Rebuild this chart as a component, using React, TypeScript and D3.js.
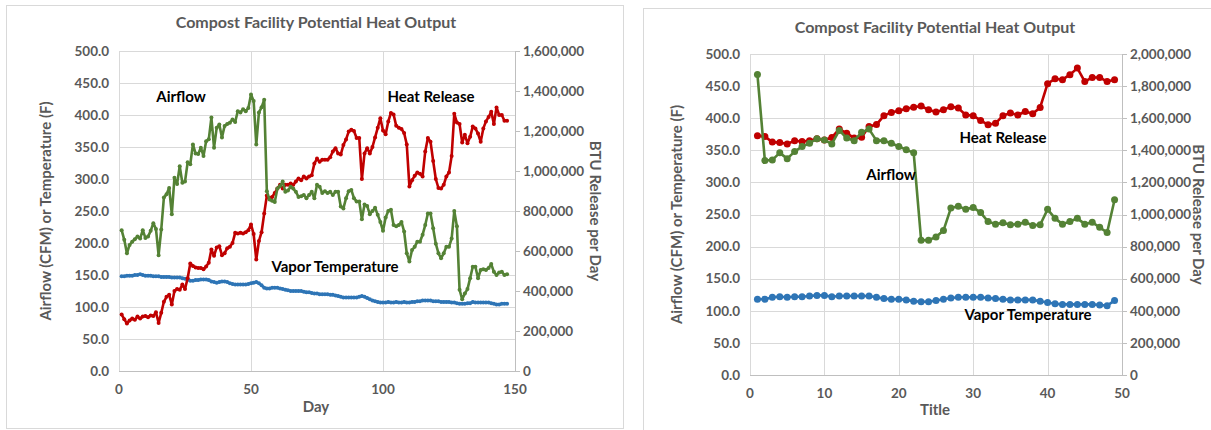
import React from 'react';
import * as d3 from 'd3';

// ---------- DATA ----------
const chartTitle = 'Compost Facility Potential Heat Output';
const yTitle = 'Airflow (CFM) or Temperature (F)';
const y2Title = 'BTU Release per Day';

// Left chart: daily values, day 1..147
const leftAirflow = [
  220, 205, 184, 197, 202, 206, 210, 207, 220, 208,
  210, 219, 231, 222, 181, 221, 271, 276, 286, 245,
  302, 292, 320, 294, 296, 326, 323, 354, 340, 339,
  349, 336, 359, 362, 396, 349, 380, 385, 365, 383,
  386, 388, 393, 389, 406, 404, 409, 406, 411, 432,
  422, 354, 404, 412, 424, 281, 268, 266, 264, 285,
  289, 296, 280, 282, 288, 285, 280, 272, 273, 275,
  270, 275, 280, 270, 291, 288, 278, 281, 278, 280,
  275, 280, 280, 257, 254, 270, 281, 283, 270, 265,
  265, 237, 260, 258, 245, 250, 255, 244, 233, 219,
  240, 250, 252, 228, 226, 228, 233, 218, 184, 171,
  189, 194, 202, 202, 213, 228, 246, 246, 223, 199,
  184, 176, 184, 194, 194, 207, 250, 226, 127, 112,
  121, 128, 145, 163, 163, 145, 158, 159, 158, 161,
  167, 155, 150, 154, 155, 150, 151,
];

const leftHeat = [
  282000, 259000, 237000, 253000, 262000, 256000, 272000, 262000, 272000, 275000,
  269000, 278000, 275000, 294000, 240000, 291000, 346000, 371000, 381000, 333000,
  400000, 410000, 406000, 432000, 410000, 464000, 538000, 525000, 518000, 515000,
  515000, 509000, 522000, 541000, 608000, 576000, 618000, 624000, 579000, 589000,
  614000, 621000, 640000, 691000, 688000, 691000, 688000, 694000, 704000, 733000,
  685000, 557000, 650000, 694000, 787000, 877000, 864000, 870000, 890000, 912000,
  931000, 912000, 931000, 931000, 938000, 931000, 947000, 963000, 954000, 973000,
  963000, 973000, 979000, 1037000, 1062000, 1046000, 1056000, 1056000, 1056000, 1069000,
  1098000, 1114000, 1088000, 1082000, 1130000, 1158000, 1197000, 1206000, 1200000, 1165000,
  1165000, 960000, 1088000, 1114000, 1088000, 1120000, 1168000, 1216000, 1264000, 1203000,
  1184000, 1248000, 1290000, 1283000, 1226000, 1216000, 1210000, 1190000, 1133000, 922000,
  954000, 976000, 992000, 986000, 973000, 1098000, 1165000, 1146000, 1050000, 960000,
  915000, 912000, 931000, 973000, 992000, 1075000, 1286000, 1242000, 1235000, 1142000,
  1181000, 1139000, 1171000, 1222000, 1213000, 1187000, 1146000, 1213000, 1248000, 1270000,
  1296000, 1235000, 1318000, 1280000, 1280000, 1251000, 1251000,
];

const leftVapor = [
  148, 148, 149, 149, 149, 150, 150, 151, 150, 149,
  149, 149, 148, 148, 148, 147, 147, 147, 147, 146,
  146, 146, 146, 145, 144, 143, 141, 141, 142, 142,
  143, 143, 143, 142, 140, 139, 138, 139, 140, 140,
  139, 137, 136, 135, 135, 135, 135, 135, 136, 137,
  138, 139, 137, 134, 130, 129, 129, 130, 130, 130,
  129, 128, 127, 126, 125, 125, 125, 125, 125, 124,
  123, 123, 122, 121, 121, 120, 120, 120, 120, 119,
  119, 118, 117, 116, 115, 115, 115, 115, 115, 115,
  116, 117, 116, 114, 112, 110, 109, 108, 107, 107,
  107, 108, 107, 107, 108, 107, 107, 108, 107, 107,
  108, 108, 109, 109, 110, 110, 110, 110, 109, 109,
  109, 108, 108, 108, 108, 107, 107, 106, 105, 105,
  105, 106, 106, 108, 107, 107, 107, 107, 107, 107,
  106, 105, 104, 104, 105, 105, 105,
];

// Right chart: points 1..49
const rightAirflow = [
  468, 334, 335, 346, 337, 348, 356, 361, 368, 366,
  360, 381, 369, 365, 378, 383, 365, 365, 361, 356,
  351, 346, 210, 210, 215, 225, 260, 263, 258, 261,
  253, 239, 235, 237, 234, 235, 238, 233, 234, 258,
  244, 235, 239, 244, 235, 238, 230, 222, 273,
];

const rightHeat = [
  1491000, 1486000, 1451000, 1448000, 1439000, 1460000, 1455000, 1460000, 1472000, 1464000,
  1480000, 1532000, 1507000, 1476000, 1482000, 1548000, 1560000, 1616000, 1636000, 1646000,
  1659000, 1668000, 1676000, 1652000, 1638000, 1652000, 1672000, 1663000, 1620000, 1616000,
  1586000, 1559000, 1568000, 1616000, 1632000, 1620000, 1642000, 1628000, 1667000, 1815000,
  1846000, 1840000, 1871000, 1912000, 1828000, 1854000, 1854000, 1828000, 1840000,
];

const rightVapor = [
  118, 118, 121, 122, 121, 122, 122, 123, 124, 124,
  122, 123, 123, 123, 123, 123, 121, 119, 118, 118,
  117, 115, 114, 114, 116, 118, 120, 121, 121, 121,
  121, 120, 119, 118, 117, 117, 117, 117, 115, 113,
  111, 110, 110, 110, 110, 110, 109, 108, 116,
];

const leftXTicks = [0, 50, 100, 150];
const rightXTicks = [0, 10, 20, 30, 40, 50];
const yTicks = [0, 50, 100, 150, 200, 250, 300, 350, 400, 450, 500];
const leftY2Ticks = [0, 200000, 400000, 600000, 800000, 1000000, 1200000, 1400000, 1600000];
const rightY2Ticks = [0, 200000, 400000, 600000, 800000, 1000000, 1200000, 1400000, 1600000, 1800000, 2000000];

// ---------- STYLE ----------
const FONT = 'Lato, "Open Sans", "DejaVu Sans", sans-serif';
const GRAY = '#595959';
const GRID = '#d9d9d9';
const AXIS = '#bfbfbf';
const GREEN = '#548235';
const RED = '#c00000';
const BLUE = '#2e75b6';

type Ann = { text: string; x: number; y: number };
type Cfg = {
  box: [number, number, number, number];
  px0: number; px1: number; py0: number; py1: number;
  xDomain: [number, number];
  xTicks: number[];
  y2Max: number;
  y2Ticks: number[];
  xTitle: string;
  airflow: number[];
  heat: number[];
  vapor: number[];
  r: number;
  lw: number;
  titleX: number; titleY: number;
  xTitleY: number;
  yTitleX: number; y2TitleX: number;
  anns: Ann[];
};

function Panel({ c }: { c: Cfg }) {
  const x = d3.scaleLinear().domain(c.xDomain).range([c.px0, c.px1]);
  const y = d3.scaleLinear().domain([0, 500]).range([c.py0, c.py1]);
  const y2 = d3.scaleLinear().domain([0, c.y2Max]).range([c.py0, c.py1]);
  const fmt1 = d3.format('.1f');
  const fmtC = d3.format(',');
  const idx = (arr: number[]) => arr.map((v, i) => [i + 1, v] as [number, number]);
  const l1 = d3.line<[number, number]>().x(d => x(d[0])).y(d => y(d[1]));
  const l2 = d3.line<[number, number]>().x(d => x(d[0])).y(d => y2(d[1]));
  const midY = (c.py0 + c.py1) / 2;

  const series = [
    { pts: idx(c.vapor), line: l1, yy: y, color: BLUE },
    { pts: idx(c.heat), line: l2, yy: y2, color: RED },
    { pts: idx(c.airflow), line: l1, yy: y, color: GREEN },
  ];

  return (
    <g>
      <rect x={c.box[0] + 0.5} y={c.box[1] + 0.5} width={c.box[2]} height={c.box[3]} fill="#fff" stroke={GRID} />
      {yTicks.map(t => (
        <line key={'gy' + t} x1={c.px0} x2={c.px1} y1={Math.round(y(t)) + 0.5} y2={Math.round(y(t)) + 0.5} stroke={GRID} />
      ))}
      {c.xTicks.map(t => (
        <line key={'gx' + t} x1={Math.round(x(t)) + 0.5} x2={Math.round(x(t)) + 0.5} y1={c.py1} y2={c.py0} stroke={GRID} />
      ))}
      <line x1={c.px0} x2={c.px1} y1={Math.round(c.py0) + 0.5} y2={Math.round(c.py0) + 0.5} stroke={AXIS} />
      <line x1={Math.round(c.px1) + 0.5} x2={Math.round(c.px1) + 0.5} y1={c.py1} y2={c.py0} stroke={AXIS} />
      {c.y2Ticks.map(t => (
        <line key={'t2' + t} x1={c.px1} x2={c.px1 + 5} y1={Math.round(y2(t)) + 0.5} y2={Math.round(y2(t)) + 0.5} stroke={AXIS} />
      ))}
      {yTicks.map(t => (
        <text key={'ly' + t} x={c.px0 - 10} y={y(t)} dy="0.35em" textAnchor="end" fontSize={13.5} fontWeight="bold" fill={GRAY} fontFamily={FONT}>{fmt1(t)}</text>
      ))}
      {c.y2Ticks.map(t => (
        <text key={'ry' + t} x={c.px1 + 8} y={y2(t)} dy="0.35em" textAnchor="start" fontSize={13.5} fontWeight="bold" fill={GRAY} fontFamily={FONT}>{fmtC(t)}</text>
      ))}
      {c.xTicks.map(t => (
        <text key={'lx' + t} x={x(t)} y={c.py0 + 18} dy="0.35em" textAnchor="middle" fontSize={13.5} fontWeight="bold" fill={GRAY} fontFamily={FONT}>{t}</text>
      ))}
      <text x={c.titleX} y={c.titleY} dy="0.35em" textAnchor="middle" fontSize={16} fontWeight="bold" fill={GRAY} fontFamily={FONT}>{chartTitle}</text>
      <text x={c.titleX} y={c.xTitleY} dy="0.35em" textAnchor="middle" fontSize={15} fontWeight="bold" fill={GRAY} fontFamily={FONT}>{c.xTitle}</text>
      <text transform={`translate(${c.yTitleX},${midY}) rotate(-90)`} dy="0.35em" textAnchor="middle" fontSize={15} fontWeight="bold" fill={GRAY} fontFamily={FONT}>{yTitle}</text>
      <text transform={`translate(${c.y2TitleX},${midY}) rotate(90)`} dy="0.35em" textAnchor="middle" fontSize={15} fontWeight="bold" fill={GRAY} fontFamily={FONT}>{y2Title}</text>
      {series.map((s, i) => (
        <g key={'s' + i}>
          <path d={s.line(s.pts) || ''} fill="none" stroke={s.color} strokeWidth={c.lw} strokeLinejoin="round" />
          {s.pts.map((p, j) => (
            <circle key={j} cx={x(p[0])} cy={s.yy(p[1])} r={c.r} fill={s.color} />
          ))}
        </g>
      ))}
      {c.anns.map(a => (
        <text key={a.text} x={a.x} y={a.y} dy="0.35em" textAnchor="middle" fontSize={15} fontWeight="bold" fill="#000" fontFamily={FONT}>{a.text}</text>
      ))}
    </g>
  );
}

export default function App() {
  const left: Cfg = {
    box: [6, 5, 617, 423],
    px0: 119, px1: 515, py0: 371, py1: 51,
    xDomain: [0, 150], xTicks: leftXTicks,
    y2Max: 1600000, y2Ticks: leftY2Ticks,
    xTitle: 'Day',
    airflow: leftAirflow, heat: leftHeat, vapor: leftVapor,
    r: 2, lw: 2.6,
    titleX: 316, titleY: 22, xTitleY: 407,
    yTitleX: 46, y2TitleX: 595,
    anns: [
      { text: 'Airflow', x: 181, y: 97 },
      { text: 'Heat Release', x: 431, y: 97 },
      { text: 'Vapor Temperature', x: 335, y: 267 },
    ],
  };
  const right: Cfg = {
    box: [643, 8, 575, 430],
    px0: 750, px1: 1122, py0: 375, py1: 54,
    xDomain: [0, 50], xTicks: rightXTicks,
    y2Max: 2000000, y2Ticks: rightY2Ticks,
    xTitle: 'Title',
    airflow: rightAirflow, heat: rightHeat, vapor: rightVapor,
    r: 3.5, lw: 2.6,
    titleX: 935, titleY: 27, xTitleY: 410,
    yTitleX: 677, y2TitleX: 1198,
    anns: [
      { text: 'Heat Release', x: 1003, y: 138 },
      { text: 'Airflow', x: 891, y: 175 },
      { text: 'Vapor Temperature', x: 1028, y: 315 },
    ],
  };
  return (
    <svg width={1211} height={430} style={{ position: 'absolute', left: 0, top: 0, background: '#fff' }}>
      <rect x={0} y={0} width={1211} height={430} fill="#fff" />
      <Panel c={left} />
      <Panel c={right} />
    </svg>
  );
}
